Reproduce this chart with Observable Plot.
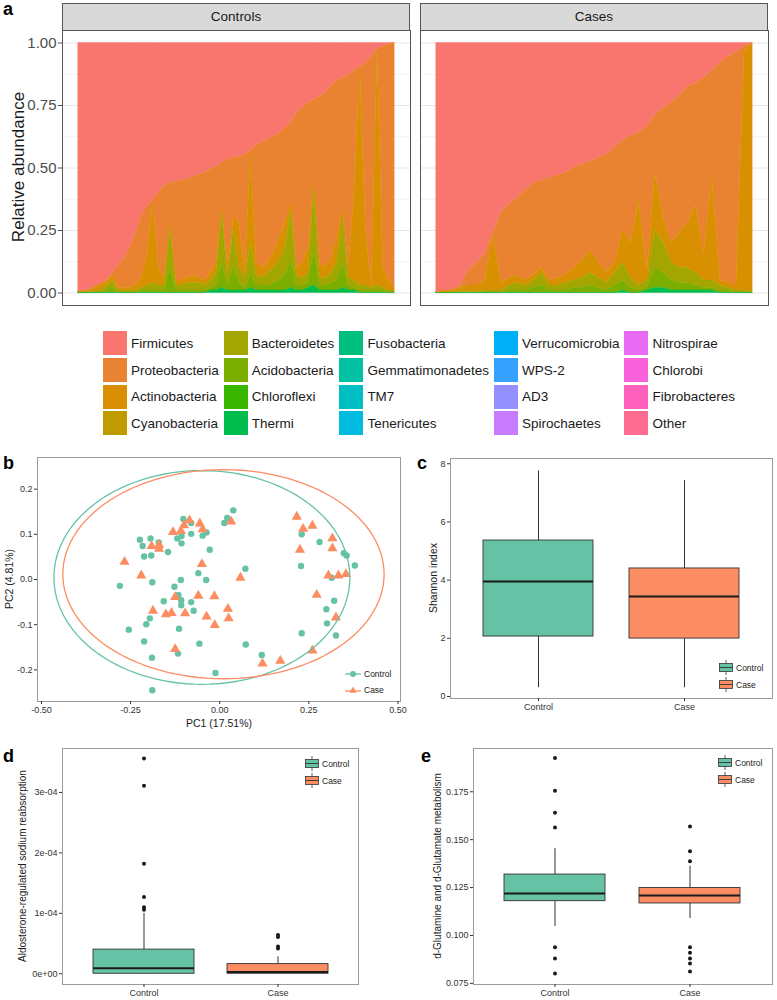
<!DOCTYPE html>
<html><head><meta charset="utf-8">
<script src="https://cdn.jsdelivr.net/npm/d3@7"></script>
<script src="https://cdn.jsdelivr.net/npm/@observablehq/plot@0.6"></script>
<style>
body{margin:0;background:#fff;}
#fig{position:relative;width:777px;height:1000px;font-family:"Liberation Sans",Arial,Helvetica,sans-serif;overflow:hidden;background:#fff;}
.plab{position:absolute;font-weight:bold;font-size:18px;line-height:1;color:#000;}
.strip{position:absolute;background:#d9d9d9;border:1px solid #555;box-sizing:border-box;text-align:center;font-size:13.5px;color:#1a1a1a;line-height:26px;}
.vlab{position:absolute;transform:translate(-50%,-50%) rotate(-90deg);white-space:nowrap;line-height:1;color:#1a1a1a;}
</style></head><body><div id="fig"></div>
<script>
// ---------- Panel a data ----------
const phyla = ["Firmicutes","Proteobacteria","Actinobacteria","Cyanobacteria","Bacteroidetes","Acidobacteria","Chloroflexi","Thermi","Fusobacteria","Gemmatimonadetes","TM7","Tenericutes","Verrucomicrobia","WPS-2","AD3","Spirochaetes","Nitrospirae","Chlorobi","Fibrobacteres","Other"];
const phylaColors = ["#F8766D","#EA8331","#D89000","#C09B00","#A3A500","#7CAE00","#39B600","#00BB4E","#00BF7D","#00C1A3","#00BFC4","#00BAE0","#00B0F6","#35A2FF","#9590FF","#C77CFF","#E76BF3","#FA62DB","#FF62BC","#FF6C91"];
const facetNames = ["Controls","Cases"];

const ctrlFirmicutes = [.995,.99,.988,.97,.96,.95,.92,.89,.86,.82,.76,.69,.65,.63,.60,.57,.56,.553,.55,.545,.535,.527,.52,.505,.495,.48,.465,.46,.455,.447,.43,.407,.397,.385,.375,.36,.34,.32,.28,.26,.24,.225,.215,.20,.17,.15,.14,.13,.11,.095,.08,.055,.025,.015,.005,0];
const ctrlProteobacteria = [0,.002,.002,.01,.01,.005,.01,.09,.12,.16,.21,.25,.20,.01,.30,.37,.16,.397,.40,.395,.395,.413,.43,.415,.385,.18,.435,.24,.265,.473,.01,.473,.503,.495,.465,.42,.38,.32,.62,.62,.58,.335,.665,.70,.69,.63,.52,.77,.49,.005,.67,.915,.005,.885,.945,.98];
const ctrlActinobacteria = [.005,.008,.005,.015,.02,.015,.02,.01,.01,.01,.02,.04,.12,.32,.07,.03,.02,.02,.02,.02,.03,.02,.02,.03,.04,.02,.04,.04,.18,.02,.36,.05,.04,.04,.06,.09,.10,.03,.03,.06,.10,.02,.06,.04,.06,.10,.04,.04,.35,.87,.22,.01,.94,.08,.04,.01];
const ctrlBacteroidetes = [0,0,.005,.005,.01,.02,.03,.01,.01,.01,.01,.01,.02,.03,.02,.02,.16,.02,.02,.03,.03,.03,.02,.03,.05,.20,.03,.15,.06,.04,.12,.04,.03,.05,.06,.08,.11,.20,.04,.03,.04,.25,.03,.03,.04,.07,.18,.03,.03,.02,.02,.01,.02,.01,.01,.01];
const ctrlAcidobacteria = [0,0,0,0,0,.01,.02,0,0,0,0,.01,.01,.01,.01,.01,.10,.01,.01,.01,.01,.01,.01,.01,.02,.10,.02,.10,.03,.01,.06,.02,.02,.02,.03,.04,.06,.11,.02,.02,.02,.14,.02,.02,.03,.04,.10,.02,.01,.01,.01,.01,.01,.01,0,0];
const ctrlThermi = [0,0,0,0,0,0,0,0,0,0,0,0,0,0,0,0,0,0,0,0,0,0,0,.01,.01,.02,.01,.01,.01,.01,.02,.01,.01,.01,.01,.01,.01,.02,.01,.01,.02,.03,.01,.01,.01,.01,.02,.01,.01,0,0,0,0,0,0,0];

const caseFirmicutes = [.997,.992,.987,.97,.91,.88,.845,.76,.68,.645,.62,.59,.56,.55,.54,.53,.517,.50,.485,.473,.46,.447,.42,.39,.373,.357,.335,.29,.26,.24,.21,.175,.16,.14,.11,.08,.055,.035,.015,0];
const caseProteobacteria = [0,0,.003,.01,.06,.09,.105,.01,.28,.295,.31,.36,.37,.35,.41,.41,.413,.40,.385,.357,.42,.473,.46,.36,.427,.273,.585,.23,.44,.56,.55,.545,.49,.71,.42,.87,.905,.935,.015,.005];
const caseActinobacteria = [.003,.008,.007,.015,.025,.025,.04,.22,.03,.03,.03,.02,.02,.02,.02,.03,.03,.05,.07,.09,.06,.04,.04,.13,.14,.34,.03,.23,.10,.08,.14,.18,.27,.10,.42,.02,.02,.02,.96,.99];
const caseBacteroidetes = [0,0,.003,.005,.005,.005,.01,.01,.01,.02,.03,.02,.03,.05,.02,.02,.03,.03,.04,.05,.04,.03,.05,.07,.04,.02,.03,.15,.12,.07,.06,.06,.05,.03,.03,.02,.01,.01,.01,.005];
const caseAcidobacteria = [0,0,0,0,0,0,0,0,0,.01,.01,.01,.02,.03,.01,.01,.01,.02,.02,.03,.02,.01,.03,.04,.02,.01,.01,.08,.06,.04,.03,.03,.02,.01,.01,.01,.01,0,0,0];
const caseThermi = [0,0,0,0,0,0,0,0,0,0,0,0,0,0,0,0,0,0,0,0,0,0,0,.01,0,0,.01,.02,.02,.01,.01,.01,.01,.01,.01,0,0,0,0,0];

const yTicksA = [0, 0.25, 0.5, 0.75, 1];
const yMinorA = [0.125, 0.375, 0.625, 0.875];

// ---------- Panel b data ----------
const groups = ["Control","Case"];
const groupColors = ["#66C2A5","#FC8D62"];
const bControlX = [-0.224,-0.216,-0.212,-0.194,-0.192,-0.171,-0.145,-0.102,-0.080,-0.119,-0.107,-0.107,-0.080,-0.048,-0.037,-0.028,0.013,0.021,0.038,0.072,-0.280,-0.189,-0.109,-0.127,-0.060,-0.038,-0.116,-0.108,-0.108,-0.157,-0.080,-0.073,-0.196,-0.206,-0.255,-0.114,-0.212,-0.057,-0.190,-0.117,-0.012,-0.189,0.073,0.118,0.230,0.280,0.228,0.348,0.356,0.379,0.314,0.321,0.299,0.301,0.326,0.230];
const bControlY = [0.088,0.074,0.051,0.091,0.053,0.082,0.061,0.134,0.125,0.091,0.096,0.080,0.101,0.097,0.104,0.066,0.125,0.136,0.153,0.024,-0.014,-0.006,-0.001,-0.016,0.014,-0.001,-0.034,-0.046,-0.057,-0.048,-0.050,-0.069,-0.086,-0.099,-0.111,-0.109,-0.137,-0.142,-0.173,-0.164,-0.207,-0.245,-0.144,-0.167,0.100,0.083,0.030,0.058,0.053,0.031,0.004,-0.047,-0.066,-0.097,-0.124,-0.119];
const bCaseX = [-0.267,-0.220,-0.191,-0.170,-0.170,-0.131,-0.109,-0.100,-0.085,-0.056,-0.048,0.032,-0.050,0.058,-0.125,-0.060,-0.015,-0.187,-0.151,-0.135,-0.097,-0.037,-0.014,0.023,0.025,-0.125,0.120,0.170,0.216,0.234,0.260,0.225,0.316,0.316,0.305,0.333,0.354,0.272,0.326,0.260];
const bCaseY = [0.039,0.009,0.074,0.076,0.068,0.105,0.107,0.120,0.131,0.124,0.111,0.128,0.034,0.004,-0.039,-0.036,-0.037,-0.069,-0.077,-0.074,-0.075,-0.082,-0.101,-0.065,-0.086,-0.154,-0.186,-0.180,0.139,0.112,0.119,0.066,0.091,0.069,0.009,0.009,0.012,-0.034,-0.084,-0.157];
// stat_ellipse results (centre, semi-axes)
const ellCx = [-0.050, 0.0105];
const ellCy = [0.0045, 0.0117];
const ellRx = [0.415, 0.4505];
const ellRy = [0.2365, 0.2314];
const bXTicks = [-0.5,-0.25,0,0.25,0.5];
const bYTicks = [-0.2,-0.1,0,0.1,0.2];

// ---------- Panel c data (Shannon index) ----------
const cLow = [0.30, 0.30], cQ1 = [2.06, 1.99], cMedian = [3.95, 3.44], cQ3 = [5.36, 4.40], cHigh = [7.75, 7.42];
const cOutControl = [], cOutCase = [];
const cTicks = [0,2,4,6,8];

// ---------- Panel d data ----------
const dLow = [0, 0], dQ1 = [0, 0], dMedian = [0.09e-4, 0.03e-4], dQ3 = [0.40e-4, 0.16e-4], dHigh = [1.0e-4, 0.28e-4];
const dOutControl = [1.06e-4, 1.10e-4, 1.27e-4, 1.82e-4, 3.11e-4, 3.56e-4];
const dOutCase = [0.42e-4, 0.45e-4, 0.61e-4, 0.64e-4];
const dTicks = [0, 1e-4, 2e-4, 3e-4];
const dTickLabels = ["0e+00","1e-04","2e-04","3e-04"];

// ---------- Panel e data ----------
const eLow = [0.1047, 0.1088], eQ1 = [0.1179, 0.1167], eMedian = [0.1219, 0.1208], eQ3 = [0.1318, 0.1248], eHigh = [0.1453, 0.1361];
const eOutControl = [0.0802, 0.0880, 0.0939, 0.1563, 0.1640, 0.1755, 0.1927];
const eOutCase = [0.0812, 0.0854, 0.0880, 0.0910, 0.0939, 0.1387, 0.1439, 0.1569];
const eTicks = [0.075, 0.100, 0.125, 0.150, 0.175];

// ================= drawing =================
const FONT = "'Liberation Sans', Arial, Helvetica, sans-serif";
const fig = document.getElementById("fig");
function put(node, left, top){ node.style.position="absolute"; node.style.left=left+"px"; node.style.top=top+"px"; fig.appendChild(node); return node; }
function div(html, cls, left, top, extra){ const d=document.createElement("div"); if(cls) d.className=cls; d.innerHTML=html; if(extra) d.style.cssText+=extra; return put(d,left,top); }
function vlabel(text, cx, cy, size){ const d=document.createElement("div"); d.className="vlab"; d.textContent=text; d.style.fontSize=size+"px"; d.style.left=cx+"px"; d.style.top=cy+"px"; fig.appendChild(d); }
const baseStyle = {fontFamily: FONT, background: "transparent", overflow: "visible", color: "#333"};

// ---- panel a ----
function tidy(series){
  const rows=[];
  series.forEach(([name, arr]) => arr.forEach((v,i)=>rows.push({i, phylum:name, value:v})));
  return rows;
}
const ctrlRows = tidy([["Firmicutes",ctrlFirmicutes],["Proteobacteria",ctrlProteobacteria],["Actinobacteria",ctrlActinobacteria],["Bacteroidetes",ctrlBacteroidetes],["Acidobacteria",ctrlAcidobacteria],["Thermi",ctrlThermi]]);
const caseRows = tidy([["Firmicutes",caseFirmicutes],["Proteobacteria",caseProteobacteria],["Actinobacteria",caseActinobacteria],["Bacteroidetes",caseBacteroidetes],["Acidobacteria",caseAcidobacteria],["Thermi",caseThermi]]);
const stackOrder = phyla.slice().reverse();

function abundancePlot(rows, n, withAxis){
  const pad = (n-1)*0.05;
  return Plot.plot({
    width: withAxis ? 410 : 348, height: 275,
    marginLeft: withAxis ? 62 : 0, marginRight: 0, marginTop: 0, marginBottom: 0,
    style: baseStyle,
    x: {domain: [-pad, n-1+pad], axis: null},
    y: {domain: [-0.05, 1.05], axis: null},
    color: {domain: phyla, range: phylaColors},
    marks: [
      Plot.gridY(yMinorA, {stroke: "#f2f2f2", strokeOpacity: 1}),
      Plot.gridY(yTicksA, {stroke: "#e6e6e6", strokeOpacity: 1}),
      Plot.areaY(rows, {x: "i", y: "value", fill: "phylum", z: "phylum", stroke: "phylum", strokeWidth: 0.4, order: stackOrder}),
      withAxis ? Plot.axisY({ticks: yTicksA, tickFormat: d => d.toFixed(2), fontSize: 15, tickSize: 4, tickPadding: 2, color: "#4d4d4d", label: null}) : null,
      Plot.frame({stroke: "#555"})
    ]
  });
}
put(abundancePlot(ctrlRows, ctrlFirmicutes.length, true), 0, 30);
put(abundancePlot(caseRows, caseFirmicutes.length, false), 420, 30);
vlabel("Relative abundance", 18, 167, 17);
div(facetNames[0], "strip", 62, 3, "width:348px;height:28px;");
div(facetNames[1], "strip", 420, 3, "width:348px;height:28px;");
div("a", "plab", 3, 0);

// legend a (5 columns x 4 rows)
{
  const wrap = document.createElement("div");
  wrap.style.cssText = "display:flex;gap:5px;font-size:13.5px;color:#1a1a1a;";
  for (let c = 0; c < 5; c++) {
    const col = document.createElement("div");
    for (let r = 0; r < 4; r++) {
      const k = c*4 + r;
      const item = document.createElement("div");
      item.style.cssText = "display:flex;align-items:center;height:26.7px;white-space:nowrap;";
      item.innerHTML = `<span style="display:inline-block;width:24px;height:24px;background:${phylaColors[k]};margin-right:4px;"></span><span>${phyla[k]}</span>`;
      col.appendChild(item);
    }
    wrap.appendChild(col);
  }
  put(wrap, 103, 330);
}

// ---- panel b ----
{
  const ctrlPts = bControlX.map((x,i)=>({x, y:bControlY[i]}));
  const casePts = bCaseX.map((x,i)=>({x, y:bCaseY[i]}));
  const ell = groups.flatMap((g,k)=> d3.range(0, 121).map(j => { const t = j/120*2*Math.PI; return {group:g, x: ellCx[k] + ellRx[k]*Math.cos(t), y: ellCy[k] + ellRy[k]*Math.sin(t)}; }));
  const pb = Plot.plot({
    width: 410, height: 300, marginLeft: 37, marginRight: 10, marginTop: 17, marginBottom: 39,
    style: baseStyle,
    x: {domain: [-0.511, 0.507], axis: null},
    y: {domain: [-0.27, 0.27], axis: null},
    color: {domain: groups, range: groupColors},
    marks: [
      Plot.frame({stroke: "#9a9a9a"}),
      Plot.axisX({ticks: bXTicks, tickFormat: d => d.toFixed(2), fontSize: 9, tickSize: 3, tickPadding: 2, color: "#333", label: null}),
      Plot.axisY({ticks: bYTicks, tickFormat: d => d.toFixed(1), fontSize: 9, tickSize: 3, tickPadding: 2, color: "#333", label: null}),
      Plot.text(["PC1 (17.51%)"], {text: d => d, frameAnchor: "bottom", dy: 25, fontSize: 10.5, fill: "#1a1a1a"}),
      Plot.dot(ctrlPts, {x: "x", y: "y", r: 3.2, fill: groupColors[0], stroke: null, symbol: "circle"}),
      Plot.dot(casePts, {x: "x", y: "y", r: 3.8, fill: groupColors[1], stroke: null, symbol: "triangle"}),
      Plot.line(ell, {x: "x", y: "y", z: "group", stroke: "group", strokeWidth: 1.3})
    ]
  });
  put(pb, 0, 440);
  vlabel("PC2 (4.81%)", 9, 579, 10.5);
  div("b", "plab", 3, 454);
  const lg = document.createElement("div");
  lg.innerHTML = `<div style="display:flex;align-items:center;height:16px;font-size:8.5px;color:#1a1a1a"><svg width="18" height="10" style="margin-right:2px"><line x1="1" x2="17" y1="5" y2="5" stroke="${groupColors[0]}" stroke-width="1.3"/><circle cx="9" cy="5" r="3" fill="${groupColors[0]}"/></svg>${groups[0]}</div>
  <div style="display:flex;align-items:center;height:16px;font-size:8.5px;color:#1a1a1a"><svg width="18" height="10" style="margin-right:2px"><line x1="1" x2="17" y1="6" y2="6" stroke="${groupColors[1]}" stroke-width="1.3"/><path d="M9,1.5 L12.6,7.8 L5.4,7.8 Z" fill="${groupColors[1]}"/></svg>${groups[1]}</div>`;
  put(lg, 344, 666);
}

// ---- box panels ----
function boxMarks(low,q1,med,q3,high,outC,outK){
  const rows = groups.map((g,k)=>({group:g, low:low[k], q1:q1[k], med:med[k], q3:q3[k], high:high[k]}));
  const outs = [...outC.map(v=>({group:"Control", v})), ...outK.map(v=>({group:"Case", v}))];
  return [
    Plot.ruleX(rows, {x: "group", y1: "low", y2: "high", stroke: "#333", strokeWidth: 1}),
    Plot.barY(rows, {x: "group", y1: "q1", y2: "q3", fill: "group", stroke: "#333", strokeWidth: 0.9}),
    Plot.tickY(rows, {x: "group", y: "med", stroke: "#1a1a1a", strokeWidth: 2}),
    Plot.dot(outs, {x: "group", y: "v", r: 2, fill: "#1a1a1a", stroke: null})
  ];
}
function boxLegend(left, top){
  const d = document.createElement("div");
  d.innerHTML = groups.map((g,k)=>`<div style="display:flex;align-items:center;height:17px;font-size:8.5px;color:#1a1a1a"><svg width="14" height="15" style="margin-right:3px"><line x1="7" x2="7" y1="0" y2="15" stroke="#333" stroke-width="0.8"/><rect x="0.5" y="3.5" width="13" height="8" fill="${groupColors[k]}" stroke="#333" stroke-width="0.8"/><line x1="0.5" x2="13.5" y1="7.5" y2="7.5" stroke="#333" stroke-width="0.9"/></svg>${g}</div>`).join("");
  put(d, left, top);
}
const bandX = {type: "band", domain: groups, paddingInner: 0.25, paddingOuter: 0.225, axis: null};

// c
{
  const pc = Plot.plot({
    width: 377, height: 280, marginLeft: 50, marginRight: 5, marginTop: 18, marginBottom: 22,
    style: baseStyle, x: bandX, y: {domain: [-0.07, 8.18], axis: null},
    color: {domain: groups, range: groupColors},
    marks: [
      Plot.frame({stroke: "#9a9a9a"}),
      Plot.axisX({fontSize: 9, tickSize: 3, tickPadding: 2, color: "#333", label: null}),
      Plot.axisY({ticks: cTicks, tickFormat: d => String(d), fontSize: 9, tickSize: 3, tickPadding: 2, color: "#333", label: null}),
      ...boxMarks(cLow, cQ1, cMedian, cQ3, cHigh, cOutControl, cOutCase)
    ]
  });
  put(pc, 400, 440);
  vlabel("Shannon index", 433, 578, 10.5);
  div("c", "plab", 417, 454);
  boxLegend(719, 659);
}
// d
{
  const pd = Plot.plot({
    width: 370, height: 270, marginLeft: 62, marginRight: 12, marginTop: 18, marginBottom: 16,
    style: baseStyle, x: bandX, y: {domain: [-0.1775e-4, 3.7275e-4], axis: null},
    color: {domain: groups, range: groupColors},
    marks: [
      Plot.frame({stroke: "#9a9a9a"}),
      Plot.axisX({fontSize: 9, tickSize: 3, tickPadding: 2, color: "#333", label: null}),
      Plot.axisY({ticks: dTicks, tickFormat: d => dTickLabels[dTicks.indexOf(d)], fontSize: 9, tickSize: 3, tickPadding: 2, color: "#333", label: null}),
      ...boxMarks(dLow, dQ1, dMedian, dQ3, dHigh, dOutControl, dOutCase)
    ]
  });
  put(pd, 0, 730);
  vlabel("Aldosterone-regulated sodium reabsorption", 23, 866, 10);
  div("d", "plab", 3, 747);
  boxLegend(305, 755);
}
// e
{
  const pe = Plot.plot({
    width: 377, height: 270, marginLeft: 73, marginRight: 5, marginTop: 18, marginBottom: 16,
    style: baseStyle, x: bandX, y: {domain: [0.0744, 0.1976], axis: null},
    color: {domain: groups, range: groupColors},
    marks: [
      Plot.frame({stroke: "#9a9a9a"}),
      Plot.axisX({fontSize: 9, tickSize: 3, tickPadding: 2, color: "#333", label: null}),
      Plot.axisY({ticks: eTicks, tickFormat: d => d.toFixed(3), fontSize: 9, tickSize: 3, tickPadding: 2, color: "#333", label: null}),
      ...boxMarks(eLow, eQ1, eMedian, eQ3, eHigh, eOutControl, eOutCase)
    ]
  });
  put(pe, 400, 730);
  vlabel("d-Glutamine and d-Glutamate metabolism", 438, 866, 10);
  div("e", "plab", 421, 747);
  boxLegend(718, 754);
}
</script></body></html>
